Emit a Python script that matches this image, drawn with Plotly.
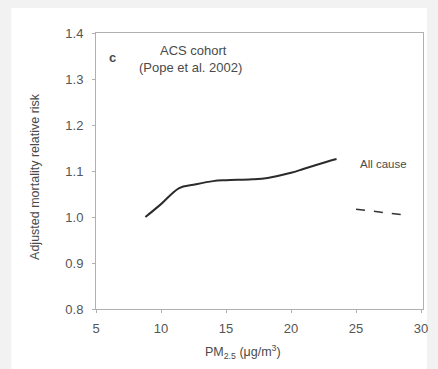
import plotly.graph_objects as go

# Data
pm_all = [8.8, 10.0, 11.4, 12.5, 14.0, 15.0, 17.0, 18.2, 20.0, 21.0, 22.5, 23.5]
rr_all = [1.0, 1.028, 1.063, 1.070, 1.078, 1.080, 1.082, 1.085, 1.096, 1.105, 1.118, 1.126]

pm_dash = [25.0, 27.0, 28.8]
rr_dash = [1.017, 1.010, 1.004]

x_ticks = [5, 10, 15, 20, 25, 30]
y_ticks = [0.8, 0.9, 1.0, 1.1, 1.2, 1.3, 1.4]
y_tick_text = ["0.8", "0.9", "1.0", "1.1", "1.2", "1.3", "1.4"]

fig = go.Figure()
fig.add_trace(go.Scatter(x=pm_all, y=rr_all, mode="lines",
                         line=dict(color="#2b2b2b", width=2, shape="spline", smoothing=1.0),
                         showlegend=False, hoverinfo="skip"))
fig.add_trace(go.Scatter(x=pm_dash, y=rr_dash, mode="lines",
                         line=dict(color="#333333", width=1.5, dash="dash"),
                         showlegend=False, hoverinfo="skip"))

font_fam = "Liberation Sans, Arial, sans-serif"
TXT = "#4a4a4a"

L, T, R, B = 96, 33, 428, 309
PW, PH = R - L, B - T


def px(x):
    return (x - L) / PW


def py(y):
    return (B - y) / PH


def ann(text, x, y, size, **kw):
    d = dict(text=text, xref="paper", yref="paper", x=px(x), y=py(y),
             xanchor="center", yanchor="middle", showarrow=False,
             font=dict(size=size, color=TXT))
    d.update(kw)
    return d


fig.update_layout(
    width=438, height=369,
    margin=dict(l=L, r=438 - R, t=T, b=369 - B),
    paper_bgcolor="#f2f2f2",
    plot_bgcolor="white",
    font=dict(family=font_fam, color=TXT, size=12),
    shapes=[dict(type="rect", xref="paper", yref="paper",
                 x0=px(10), x1=px(432), y0=py(369), y1=py(8),
                 fillcolor="white", line=dict(width=0), layer="below")],
    xaxis=dict(range=[5, 30.15], tickvals=x_ticks, ticks="outside", ticklen=3,
               tickcolor="#b0b0b0", showline=True, linecolor="#b0b0b0", linewidth=1,
               mirror=True, showgrid=False, zeroline=False, ticklabelstandoff=4,
               tickfont=dict(size=13, color="#555555")),
    yaxis=dict(range=[0.8, 1.4], tickvals=y_ticks, ticktext=y_tick_text,
               ticks="outside", ticklen=3,
               tickcolor="#b0b0b0", showline=True, linecolor="#b0b0b0", linewidth=1,
               mirror=True, showgrid=False, zeroline=False, ticklabelstandoff=6,
               tickfont=dict(size=13, color="#555555")),
    annotations=[
        ann("<b>c</b>", 113, 57, 13),
        ann("ACS cohort", 195, 50, 13),
        ann("(Pope et al. 2002)", 192, 67, 13),
        ann("All cause", 388, 164, 11.5),
        ann("Adjusted mortality relative risk", 34, 176, 12.5, textangle=-90),
        ann("PM<sub>2.5</sub> (μg/m<sup>3</sup>)", 245, 352, 12.5),
    ],
)

fig.write_html(
    "out.html",
    config={"displayModeBar": False},
    post_script="document.body.style.margin='0';document.body.style.background='#f2f2f2';",
)
